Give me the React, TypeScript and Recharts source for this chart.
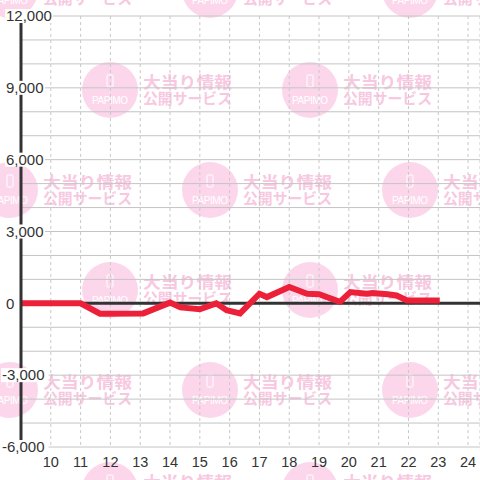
import React from "react";
import {
  LineChart,
  Line,
  XAxis,
  YAxis,
  CartesianGrid,
  ReferenceLine,
} from "recharts";

// hour of day -> running balance
const hours = [9, 11, 11.65, 13.1, 14.0, 14.35, 15.0, 15.55, 15.9, 16.35, 17.0, 17.25, 18.0, 18.6, 19.0, 19.7, 20.05, 20.6, 20.8, 21.3, 21.6, 21.95, 23.05];
const balance = [0, 0, -430, -420, 30, -170, -250, 0, -290, -420, 400, 260, 680, 400, 380, 60, 470, 400, 430, 380, 330, 120, 120];

const xTicks = [10, 11, 12, 13, 14, 15, 16, 17, 18, 19, 20, 21, 22, 23, 24];
const yTicks = [-6000, -5000, -4000, -3000, -2000, -1000, 0, 1000, 2000, 3000, 4000, 5000, 6000, 7000, 8000, 9000, 10000, 11000, 12000];

const data = hours.map((h, i) => ({ h, v: balance[i] }));

const FONT = '"Liberation Sans", Arial, sans-serif';

// background watermark tiles
const wmRows = [-10, 90, 190, 290, 390, 490];

function Watermark() {
  const marks: { cx: number; cy: number }[] = [];
  wmRows.forEach((cy, r) => {
    for (let cx = 10 + 100 * (r % 2); cx < 560; cx += 200) marks.push({ cx, cy });
  });
  return (
    <svg width={480} height={480} style={{ position: "absolute", left: 0, top: 0 }}>
      {marks.map(({ cx, cy }, i) => (
        <g key={i}>
          <circle cx={cx} cy={cy} r={28} fill="#fcd7ec" />
          <rect x={cx - 3} y={cy - 15} width={6} height={12} rx={1} fill="none" stroke="#fff" strokeWidth={1} />
          <text x={cx} y={cy + 14} textAnchor="middle" fill="#fff" fontSize={10} fontFamily={FONT} textLength={36} lengthAdjust="spacing">
            PAPIMO
          </text>
          <text x={cx + 33} y={cy - 2} fill="#f8c8e1" fontSize={16} fontWeight="bold" fontFamily='"Noto Sans CJK JP", sans-serif' textLength={89} lengthAdjust="spacingAndGlyphs">
            大当り情報
          </text>
          <text x={cx + 33} y={cy + 14} fill="#f8c8e1" fontSize={15} fontWeight="bold" fontFamily='"Noto Sans CJK JP", sans-serif' textLength={89} lengthAdjust="spacingAndGlyphs">
            公開サービス
          </text>
        </g>
      ))}
    </svg>
  );
}

function YTick(props: any) {
  const { y, payload } = props;
  if (payload.value % 3000 !== 0) return null;
  const label = payload.value.toLocaleString("en-US");
  const w = label.length * 7.6;
  const x0 = payload.value < 0 ? 2 : 6;
  return (
    <g>
      <rect x={x0 - 1} y={y - 7} width={w + 2} height={14} fill="#fff" />
      <text x={x0} y={y} dy="0.35em" fill="#333" fontSize={15} fontFamily={FONT}>
        {label}
      </text>
    </g>
  );
}

function XTick(props: any) {
  const { x, payload } = props;
  return (
    <text x={x} y={462} dy="0.35em" textAnchor="middle" fill="#333" fontSize={14.5} fontFamily={FONT}>
      {payload.value}
    </text>
  );
}

export default function App() {
  return (
    <div style={{ position: "absolute", left: 0, top: 0, width: 480, height: 480, overflow: "hidden", background: "#fff" }}>
      <Watermark />
      <div style={{ position: "absolute", left: 0, top: 0 }}>
        <LineChart width={480} height={480} data={data} margin={{ top: 16, right: 0, bottom: 0, left: 0 }}>
          <CartesianGrid horizontal={false} stroke="#c8c8c8" strokeDasharray="3 3" />
          <CartesianGrid vertical={false} stroke="#c4c4c4" />
          <XAxis
            dataKey="h"
            type="number"
            domain={[9, 24.4]}
            ticks={xTicks}
            allowDataOverflow
            axisLine={false}
            tickLine={false}
            height={33}
            tick={<XTick />}
          />
          <YAxis
            type="number"
            domain={[-6000, 12000]}
            ticks={yTicks}
            interval={0}
            width={21}
            axisLine={{ stroke: "#333", strokeWidth: 3 }}
            tickLine={false}
            tick={<YTick />}
          />
          <ReferenceLine y={0} stroke="#333" strokeWidth={3} />
          <Line
            type="linear"
            dataKey="v"
            stroke="#ec2139"
            strokeWidth={6}
            dot={false}
            isAnimationActive={false}
          />
        </LineChart>
      </div>
    </div>
  );
}
